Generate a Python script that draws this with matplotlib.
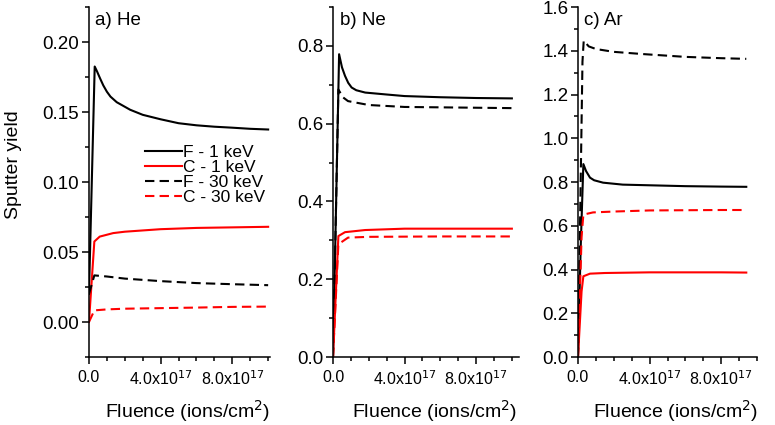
import numpy as np
import matplotlib
matplotlib.use("Agg")
import matplotlib.pyplot as plt
from matplotlib.ticker import MultipleLocator, FuncFormatter

plt.rcParams["font.family"] = ["Liberation Sans", "DejaVu Sans"]

# fluence in units of 1e17 ions/cm^2
UNIT = 1e17

# a) He
he_x_f1 = [0, 0.32, 0.45, 0.62, 0.8, 1.0, 1.2, 1.55, 2.3, 3.0, 4.0, 5.0, 6.0, 7.0, 8.0, 9.0, 10.0]
he_f1 = [0.02, 0.1825, 0.179, 0.174, 0.169, 0.1645, 0.161, 0.157, 0.1516, 0.148, 0.1448, 0.142, 0.1405, 0.1395, 0.1388, 0.138, 0.1375]
he_x_c1 = [0, 0.3, 0.6, 1.35, 2.0, 4.0, 6.0, 8.0, 10.0]
he_c1 = [0.0, 0.0575, 0.061, 0.0635, 0.0645, 0.0663, 0.0672, 0.0676, 0.068]
he_x_30 = [0, 0.3, 1.0, 2.0, 4.0, 6.0, 8.0, 10.0]
he_f30 = [0.02, 0.0333, 0.0325, 0.031, 0.0292, 0.0278, 0.027, 0.0263]
he_c30 = [0.0, 0.0083, 0.009, 0.0095, 0.0099, 0.0103, 0.0108, 0.011]

# b) Ne
ne_x_f1 = [0, 0.34, 0.5, 0.67, 0.85, 1.04, 1.3, 1.8, 3.0, 4.0, 6.0, 8.0, 10.0]
ne_f1 = [0.0, 0.7786, 0.745, 0.723, 0.705, 0.693, 0.686, 0.680, 0.675, 0.671, 0.668, 0.666, 0.665]
ne_x_f30 = [0, 0.3, 0.55, 0.84, 2.0, 4.0, 6.0, 8.0, 10.0]
ne_f30 = [0.0, 0.688, 0.668, 0.658, 0.648, 0.643, 0.642, 0.641, 0.640]
ne_x_c1 = [0, 0.3, 0.67, 1.8, 4.0, 6.0, 8.0, 10.0]
ne_c1 = [0.0, 0.311, 0.321, 0.3265, 0.330, 0.330, 0.330, 0.330]
ne_x_c30 = [0, 0.3, 0.84, 2.0, 4.0, 6.0, 8.0, 10.0]
ne_c30 = [0.0, 0.29, 0.307, 0.309, 0.3095, 0.31, 0.31, 0.31]

# c) Ar
ar_x_f1 = [0, 0.15, 0.3, 0.45, 0.67, 0.9, 1.4, 2.5, 4.0, 6.0, 8.0, 9.4]
ar_f1 = [0.0, 0.5, 0.882, 0.85, 0.82, 0.808, 0.797, 0.788, 0.785, 0.781, 0.779, 0.778]
ar_x_f30 = [0, 0.15, 0.25, 0.32, 0.6, 1.0, 2.0, 3.6, 6.0, 8.0, 9.4]
ar_f30 = [0.0, 0.8, 1.35, 1.446, 1.42, 1.408, 1.395, 1.385, 1.372, 1.366, 1.363]
ar_x_c1 = [0, 0.2, 0.3, 0.67, 1.5, 4.0, 6.0, 8.0, 9.4]
ar_c1 = [0.0, 0.3, 0.369, 0.381, 0.384, 0.387, 0.387, 0.387, 0.386]
ar_x_c30 = [0, 0.2, 0.3, 0.84, 2.0, 4.0, 6.0, 8.0, 9.4]
ar_c30 = [0.0, 0.55, 0.651, 0.661, 0.665, 0.67, 0.671, 0.672, 0.672]

labels = ["F - 1 keV", "C - 1 keV", "F - 30 keV", "C - 30 keV"]
DASH = (0, (4.5, 2.5))


def x_fmt(v, pos):
    if v == 0:
        return "0.0"
    m = v / UNIT
    return f"{m:.1f}x10$^{{17}}$"


def style_axis(ax, xmax, ymin, ymax, ymajor, yfmt):
    ax.set_xlim(0, xmax * UNIT)
    ax.set_ylim(ymin, ymax)
    ax.spines["top"].set_visible(False)
    ax.spines["right"].set_visible(False)
    for s in ("left", "bottom"):
        ax.spines[s].set_linewidth(1.1)
    ax.xaxis.set_major_locator(MultipleLocator(4 * UNIT))
    ax.xaxis.set_minor_locator(MultipleLocator(1 * UNIT))
    ax.xaxis.set_major_formatter(FuncFormatter(x_fmt))
    ax.yaxis.set_major_locator(MultipleLocator(ymajor))
    ax.yaxis.set_minor_locator(MultipleLocator(ymajor / 2))
    ax.yaxis.set_major_formatter(FuncFormatter(lambda v, p: yfmt.format(v)))
    ax.tick_params(which="major", direction="out", length=5, width=1.1)
    ax.tick_params(which="minor", direction="out", length=3, width=1.1)
    ax.tick_params(axis="y", labelsize=13.5, pad=2)
    ax.tick_params(axis="x", labelsize=11.5, pad=4)
    ax.set_xlabel("Fluence (ions/cm$^2$)", fontsize=14, labelpad=7)
    ax.xaxis.label.set_x(0.545)


def draw(ax, xf1, f1, xc1, c1, xf30, f30, xc30, c30):
    s = lambda xs: np.array(xs) * UNIT
    ax.plot(s(xf1), f1, color="black", lw=1.5, label=labels[0])
    ax.plot(s(xc1), c1, color="red", lw=1.5, label=labels[1])
    ax.plot(s(xf30), f30, color="black", lw=1.5, linestyle=DASH, label=labels[2])
    ax.plot(s(xc30), c30, color="red", lw=1.5, linestyle=DASH, label=labels[3])


fig = plt.figure(figsize=(7.75, 4.25), dpi=100)
bottom = 0.16
height = 0.8235
ax_a = fig.add_axes([0.1148, bottom, 0.2335, height])
ax_b = fig.add_axes([0.4297, bottom, 0.240, height])
ax_c = fig.add_axes([0.7458, bottom, 0.231, height])

draw(ax_a, he_x_f1, he_f1, he_x_c1, he_c1, he_x_30, he_f30, he_x_30, he_c30)
style_axis(ax_a, 1.01e1, -0.025, 0.225, 0.05, "{:.2f}")
ax_a.set_ylabel("Sputter yield", fontsize=14, labelpad=15)
ax_a.yaxis.label.set_y(0.55)
ax_a.text(0.035, 0.985, "a) He", transform=ax_a.transAxes, fontsize=13.5, va="top")
ax_a.legend(loc="upper left", bbox_to_anchor=(0.31, 0.607), frameon=False,
            fontsize=12.5, handlelength=2.1, handletextpad=0.1,
            labelspacing=0.0, borderpad=0, borderaxespad=0)

draw(ax_b, ne_x_f1, ne_f1, ne_x_c1, ne_c1, ne_x_f30, ne_f30, ne_x_c30, ne_c30)
style_axis(ax_b, 1.04e1, 0.0, 0.9, 0.2, "{:.1f}")
ax_b.text(0.035, 0.985, "b) Ne", transform=ax_b.transAxes, fontsize=13.5, va="top")

draw(ax_c, ar_x_f1, ar_f1, ar_x_c1, ar_c1, ar_x_f30, ar_f30, ar_x_c30, ar_c30)
style_axis(ax_c, 1.0e1, 0.0, 1.6, 0.2, "{:.1f}")
ax_c.text(0.035, 0.985, "c) Ar", transform=ax_c.transAxes, fontsize=13.5, va="top")

fig.savefig("out.png", dpi=100)
plt.close(fig)
